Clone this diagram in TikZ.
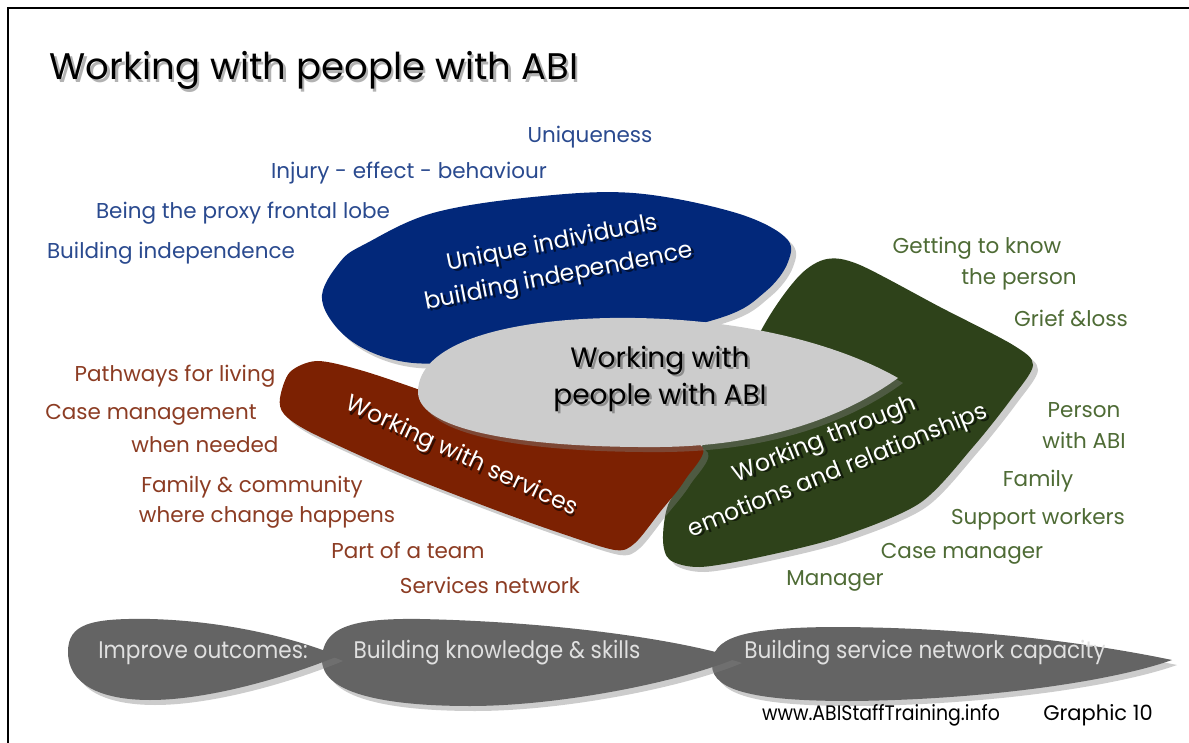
\documentclass[tikz,border=0pt]{standalone}
\usepackage{fontspec}
\setmainfont{Poppins}
\usetikzlibrary{shadows}
\definecolor{abiblue}{RGB}{2,40,122}
\definecolor{abired}{RGB}{124,33,2}
\definecolor{abigreen}{RGB}{46,66,26}
\definecolor{abigrey}{RGB}{204,204,204}
\definecolor{abibar}{RGB}{100,100,100}
\definecolor{txtblue}{RGB}{42,74,143}
\definecolor{txtred}{RGB}{140,60,35}
\definecolor{txtgreen}{RGB}{78,107,53}
% text with an offset copy behind it
\newcommand{\shtxt}[2]{\makebox[0pt][l]{\hspace{2.5pt}\raisebox{-2.5pt}{\textcolor{#1}{#2}}}#2}

\begin{document}
\begin{tikzpicture}[x=1pt,y=-1pt,
  blob/.style={drop shadow={opacity=0.4,shadow xshift=5pt,shadow yshift=-5pt}},
  lbl/.style={inner sep=0pt,font=\fontsize{21.5}{26}\selectfont},
  lblue/.style={lbl,txtblue},
  lred/.style={lbl,txtred},
  lgreen/.style={lbl,txtgreen},
  blobtxt/.style={inner sep=0pt,white,align=center,font=\fontsize{23.5}{34}\selectfont},
  bartxt/.style={inner sep=0pt,white!88!black,xscale=0.9,font=\fontsize{24}{28}\selectfont},
  foot/.style={inner sep=0pt,black,font=\fontsize{21}{24}\selectfont}]
\useasboundingbox (0,0) rectangle (1189,743);
\fill[white] (0,0) rectangle (1189,743);
\draw[line width=2pt] (8,743) -- (8,8) -- (1189,8);

% title
\node[inner sep=0pt,font=\fontsize{37}{44}\selectfont] (title) at (314,72)
  {\shtxt{black!30}{Working with people with ABI}};

% the four blobs
\fill[abiblue,blob] plot[smooth cycle,tension=0.6] coordinates {(322,300) (340,262) (367,243)
  (433,213) (533,197) (633,193) (733,212) (785,237) (788,262) (765,292) (720,318)
  (600,345) (480,360) (405,362) (350,340)};
\fill[abigreen,blob] plot[smooth cycle,tension=0.5] coordinates {(663,540) (668,505) (690,470)
  (720,410) (767,320) (800,275) (827,259) (860,265) (940,307) (1013,345) (1033,365)
  (1012,398) (973,447) (920,503) (840,537) (760,557) (700,567) (670,560)};
\fill[abired,blob] plot[smooth cycle,tension=0.5] coordinates {(280,398) (290,372) (317,361)
  (360,370) (420,390) (500,420) (600,440) (700,445) (685,480) (660,512) (635,543)
  (615,550) (560,533) (490,508) (393,470) (310,432) (284,414)};
\fill[abigrey,blob] (418,392) .. controls (418,345) and (500,320) .. (610,318)
  .. controls (740,316) and (840,345) .. (898,378)
  .. controls (840,420) and (760,446) .. (660,447)
  .. controls (520,448) and (418,430) .. (418,392) -- cycle;

% blob texts
\node[blobtxt,rotate=11] (unique) at (556,262)
  {\shtxt{black!60!abiblue}{Unique individuals}\\\shtxt{black!60!abiblue}{building independence}};
\node[blobtxt,rotate=-25] (services) at (461,458)
  {\shtxt{black!60!abired}{Working with services}};
\node[blobtxt,rotate=22] (emotions) at (832,457)
  {\shtxt{black!60!abigreen}{Working through}\\\shtxt{black!60!abigreen}{emotions and relationships}};
\node[inner sep=0pt,align=center,font=\fontsize{28}{37}\selectfont] (centre) at (660,380)
  {\shtxt{black!45}{Working with}\\\shtxt{black!45}{people with ABI}};

% blue labels
\node[lblue] (uniq) at (590,137) {Uniqueness};
\node[lblue] (injury) at (409,173) {Injury - effect - behaviour};
\node[lblue] (proxy) at (243,213) {Being the proxy frontal lobe};
\node[lblue] (indep) at (171,253) {Building independence};

% red labels
\node[lred] (pathways) at (175,376) {Pathways for living};
\node[lred] (casemgmt) at (151,415) {Case management};
\node[lred] (whenneed) at (205,445) {when needed};
\node[lred] (family) at (252,487) {Family \& community};
\node[lred] (wherechg) at (267,517) {where change happens};
\node[lred] (team) at (408,550) {Part of a team};
\node[lred] (network) at (490,585) {Services network};

% green labels
\node[lgreen] (getknow) at (977,248) {Getting to know};
\node[lgreen] (theperson) at (1019,279) {the person};
\node[lgreen] (grief) at (1071,318) {Grief \&loss};
\node[lgreen] (person) at (1084,410) {Person};
\node[lgreen] (withabi) at (1084,440) {with ABI};
\node[lgreen] (gfamily) at (1038,481) {Family};
\node[lgreen] (support) at (1038,519) {Support workers};
\node[lgreen] (casemgr) at (962,554) {Case manager};
\node[lgreen] (manager) at (835,581) {Manager};

% outcome bar
\fill[abibar,blob] (712,665) .. controls (712,638) and (740,628) .. (830,627)
  .. controls (980,627) and (1100,645) .. (1172,660)
  .. controls (1110,682) and (980,700) .. (850,701)
  .. controls (760,701) and (712,692) .. (712,665) -- cycle;
\fill[abibar,blob] (322,660) .. controls (322,628) and (350,618) .. (420,619)
  .. controls (560,622) and (680,640) .. (737,658)
  .. controls (680,682) and (560,706) .. (470,706)
  .. controls (380,706) and (322,692) .. (322,660) -- cycle;
\fill[abibar,blob] (68,652) .. controls (68,624) and (90,618) .. (150,619)
  .. controls (230,621) and (300,640) .. (338,656)
  .. controls (290,676) and (210,700) .. (150,700)
  .. controls (100,700) and (68,684) .. (68,652) -- cycle;
\node[bartxt] (improve) at (203,653) {Improve outcomes:};
\node[bartxt] (knowledge) at (497,653) {Building knowledge \& skills};
\node[bartxt] (capacity) at (925,653) {Building service network capacity};

% footer
\node[foot,xscale=0.9] (url) at (881,715) {www.ABIStaffTraining.info};
\node[foot] (graphic) at (1098,715) {Graphic 10};
\end{tikzpicture}
\end{document}
